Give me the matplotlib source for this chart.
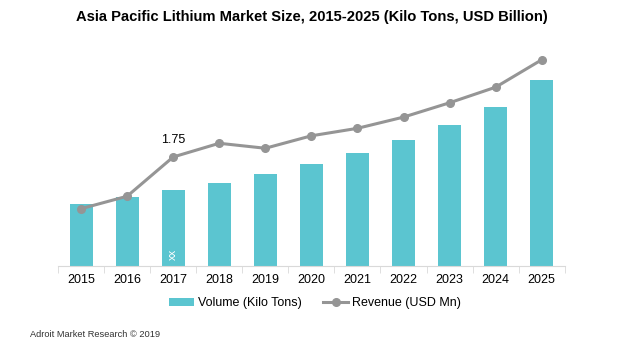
import numpy as np
import matplotlib.pyplot as plt

plt.rcParams['font.family'] = ['Liberation Sans', 'DejaVu Sans']

# data
years = ['2015', '2016', '2017', '2018', '2019', '2020', '2021', '2022', '2023', '2024', '2025']
volume = [31, 34.5, 38, 41.5, 46, 51, 56.5, 63, 70.5, 79.5, 93]
revenue = [0.92, 1.12, 1.75, 1.97, 1.89, 2.09, 2.21, 2.39, 2.62, 2.87, 3.31]

bar_color = '#5bc5d0'
line_color = '#959595'

fig = plt.figure(figsize=(6.24, 3.59), dpi=100)
ax = fig.add_axes([0.093, 0.259, 0.812, 0.63])
x = np.arange(len(years))

ax.bar(x, volume, width=0.5, color=bar_color, label='Volume (Kilo Tons)', zorder=2)
ax.set_xlim(-0.5, len(years) - 0.5)
ax.set_ylim(0, 113)
ax.set_yticks([])
for s in ['top', 'right', 'left']:
    ax.spines[s].set_visible(False)
ax.spines['bottom'].set_color('#d9d9d9')
ax.set_xticks(x)
ax.set_xticklabels(years, fontsize=9)
ax.tick_params(axis='x', length=0, pad=6)
# small separators between categories
ax.set_xticks(np.arange(-0.5, len(years)), minor=True)
ax.tick_params(axis='x', which='minor', length=5, color='#d9d9d9')

ax.text(2, 3, 'xx', rotation=90, color='white', fontsize=8, ha='center', va='bottom')

ax2 = ax.twinx()
ax2.plot(x, revenue, color=line_color, lw=2.2, marker='o', ms=5.5,
         label='Revenue (USD Mn)', zorder=3)
ax2.set_ylim(0, 3.63)
ax2.set_yticks([])
for s in ax2.spines.values():
    s.set_visible(False)
ax2.annotate('1.75', (2, revenue[2]), xytext=(0, 8), textcoords='offset points',
             ha='center', va='bottom', fontsize=9)

fig.text(0.5, 0.972, 'Asia Pacific Lithium Market Size, 2015-2025 (Kilo Tons, USD Billion)',
         ha='center', va='top', fontsize=10.6, fontweight='bold')

h1, l1 = ax.get_legend_handles_labels()
h2, l2 = ax2.get_legend_handles_labels()
fig.legend(h1 + h2, l1 + l2, loc='center', bbox_to_anchor=(0.505, 0.155), ncol=2,
           frameon=False, fontsize=9, handlelength=2.0, columnspacing=1.7,
           handletextpad=0.3)

fig.text(0.048, 0.062, 'Adroit Market Research \u00a9 2019', fontsize=6.7, color='#333333')

fig.savefig('out.png', dpi=100)
